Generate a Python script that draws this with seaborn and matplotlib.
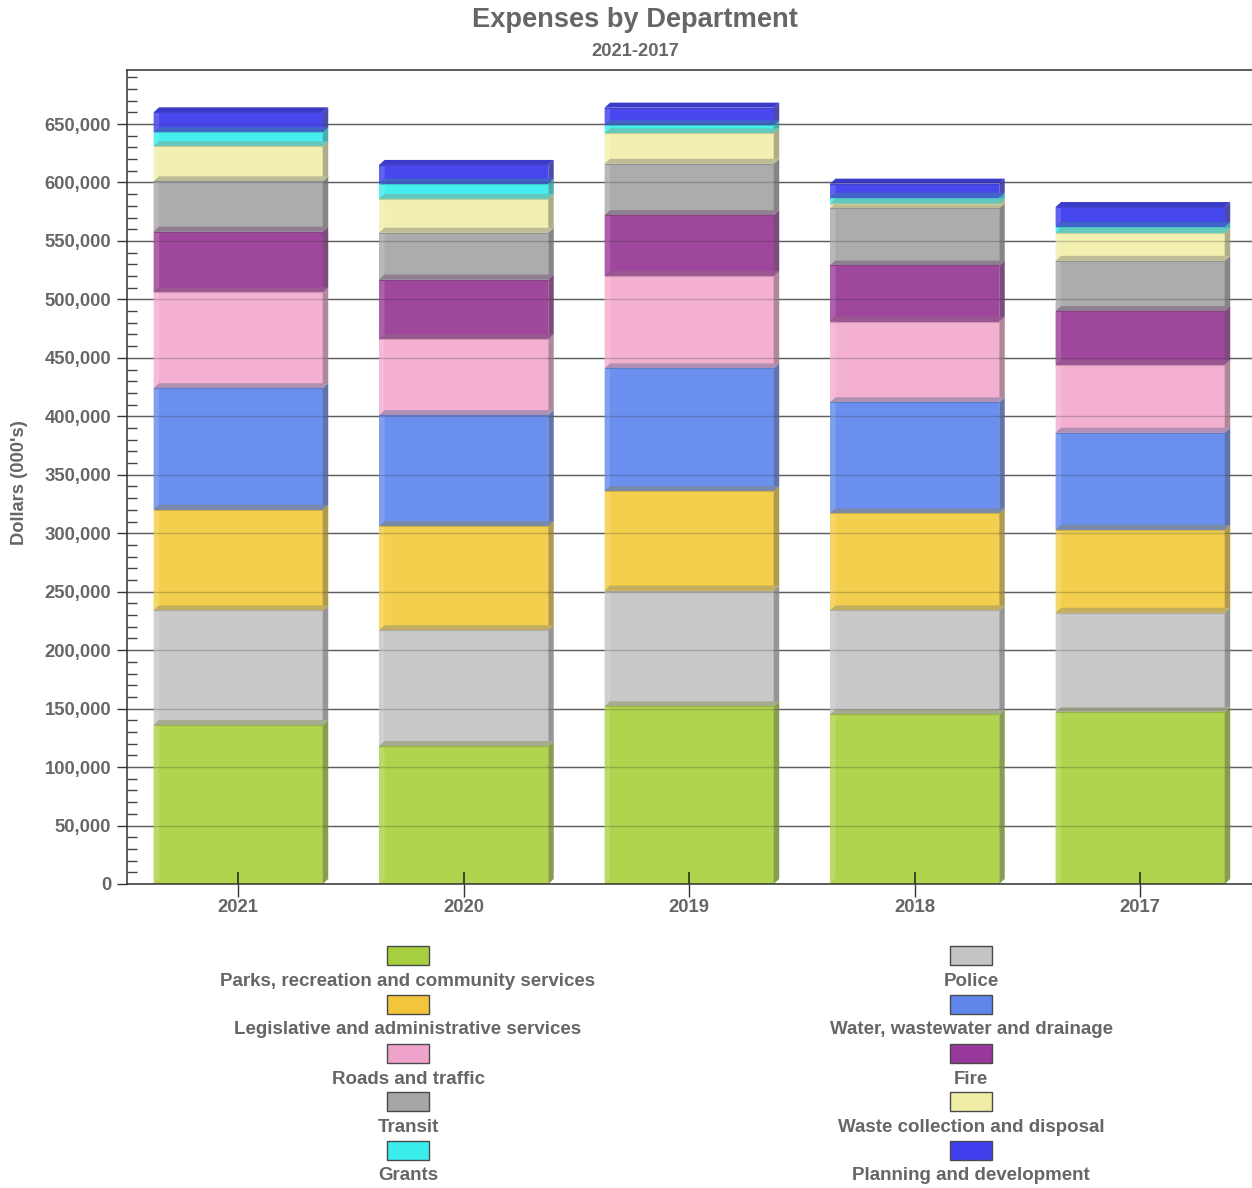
import matplotlib
matplotlib.use("Agg")
import matplotlib.pyplot as plt
from matplotlib.colors import to_rgb
from matplotlib.patches import Rectangle
from matplotlib.ticker import MultipleLocator, FuncFormatter
import numpy as np
import seaborn as sns

years = ["2021", "2020", "2019", "2018", "2017"]
departments = ["Parks, recreation and community services", "Police",
               "Legislative and administrative services", "Water, wastewater and drainage",
               "Roads and traffic", "Fire", "Transit", "Waste collection and disposal",
               "Grants", "Planning and development"]
parks = [136000, 118000, 152000, 145000, 147000]
police = [98000, 99000, 99000, 89000, 85000]
legislative = [86000, 89000, 85000, 83000, 71000]
water = [104000, 95000, 105000, 95000, 83000]
roads = [82000, 65000, 79000, 69000, 58000]
fire = [52000, 51000, 52000, 48000, 46000]
transit = [43000, 40000, 44000, 49000, 43000]
waste = [30000, 29000, 26000, 4000, 24000]
grants = [12000, 13000, 7000, 5000, 5000]
planning = [17000, 16000, 15000, 12000, 17000]
series = [parks, police, legislative, water, roads, fire, transit, waste, grants, planning]
colors = ["#B0D44E", "#C8C8C8", "#F3CF4D", "#6B8FEE", "#F3B0D0",
          "#9E479C", "#ACACAC", "#F2F0B0", "#45EFEF", "#4747F0"]
swatches = ["#A6CE3F", "#C4C4C4", "#F2C63C", "#5F86EA", "#EFA3CB",
            "#97389A", "#A6A6A6", "#EFEDA6", "#3CEDED", "#3F3FEE"]

TXT = "#666666"
sns.set_style("white")
plt.rcParams["font.family"] = ["Liberation Sans", "DejaVu Sans"]
plt.rcParams["font.weight"] = "bold"

W, H = 1252, 1188
fig = plt.figure(figsize=(W / 100, H / 100), dpi=100)
ax = fig.add_axes([127 / W, 1 - 884 / H, (W - 127) / W, 814 / H])
ax.set_axisbelow(True)

cum = np.cumsum(np.array(series, dtype=float), axis=0)
BAR_W = 0.75
for i in range(len(series) - 1, -1, -1):
    sns.barplot(x=years, y=cum[i], order=years, color=colors[i], saturation=1,
                width=BAR_W, ax=ax, zorder=3, linewidth=0)

X0, X1 = -0.493, 4.496
ax.set_xlim(X0, X1)
ax.set_ylim(0, 696200)
DX = 5.5 / 225
DY = 5 / (814 / 696200)


def mix(c, other, t):
    return tuple(np.array(to_rgb(c)) * (1 - t) + np.array(to_rgb(other)) * t)


n = len(series)
for j in range(len(years)):
    l, r = j - BAR_W / 2, j + BAR_W / 2
    prev = 0.0
    for i in range(n):
        top = cum[i][j]
        # right-hand side face
        ax.fill([r, r + DX, r + DX, r], [prev, prev + DY, top + DY, top],
                color=mix(colors[i], "#505050", 0.42), lw=0, zorder=3.2)
        # lighter left strip where no back wall shows
        ax.fill([l, l + DX, l + DX, l], [prev, prev + DY, top, top],
                color=mix(colors[i], "white", 0.14), lw=0, zorder=3.1)
        # top face of the block, seen through the block above
        if i == n - 1:
            face = mix(colors[i], "#202070", 0.3)
        else:
            face = mix(mix(colors[i + 1], colors[i], 0.25), "#303030", 0.2)
        ax.fill([l, l + DX, r + DX, r], [top, top + DY, top + DY, top],
                color=face, lw=0, zorder=3.3)
        ax.plot([l, r], [top, top], color=mix(colors[i], "#303030", 0.2), lw=0.8,
                zorder=3.4, solid_capstyle="butt")
        prev = top

major = np.arange(0, 650001, 50000)
ax.yaxis.set_major_locator(MultipleLocator(50000))
ax.yaxis.set_minor_locator(MultipleLocator(10000))
ax.yaxis.set_major_formatter(FuncFormatter(lambda v, _: f"{int(v):,}"))
ax.grid(True, axis="y", which="major", color="#707070", lw=1, zorder=1)
ax.grid(False, axis="x")
ax.hlines(major[1:], X0, X1, color="#303030", lw=1, alpha=0.25, zorder=4)
ax.vlines(range(5), 0, 10000, color="#202020", lw=1.1, zorder=5)

for s in ["left", "top", "bottom"]:
    ax.spines[s].set_visible(True)
    ax.spines[s].set_color("#333333")
    ax.spines[s].set_linewidth(1.1)
    ax.spines[s].set_zorder(6)
ax.spines["right"].set_visible(False)
ax.tick_params(axis="y", which="major", direction="out", length=7.5, width=1, color="#333333",
               left=True, labelsize=13.3, labelcolor=TXT, pad=4)
ax.tick_params(axis="y", which="minor", direction="in", length=7.5, width=1, color="#444444", left=True)
ax.tick_params(axis="x", which="major", direction="out", length=9.5, width=1, color="#333333",
               bottom=True, labelsize=13.3, labelcolor=TXT, pad=1)
ax.set_xlabel("")
ax.set_ylabel("")


def ftext(px, py, s, **kw):
    kw.setdefault("ha", "center")
    kw.setdefault("va", "center")
    kw.setdefault("color", TXT)
    kw.setdefault("fontweight", "bold")
    fig.text(px / W, 1 - py / H, s, **kw)


ftext(635, 20, "Expenses by Department", fontsize=19.6)
ftext(635, 51, "2021-2017", fontsize=13.2)
ftext(20, 483, "Dollars (000's)", fontsize=13.2, rotation=90)

col_x = [408, 971]
rows = [955, 1004, 1053, 1101, 1150]
for i, name in enumerate(departments):
    cx, sy = col_x[i % 2], rows[i // 2]
    fig.add_artist(Rectangle(((cx - 21) / W, 1 - (sy + 9.5) / H), 42 / W, 19 / H,
                             transform=fig.transFigure, facecolor=swatches[i],
                             edgecolor="#4A4A4A", lw=1))
    ftext(cx, sy + 26, name, fontsize=13.5)

fig.savefig("out.png", dpi=100)
